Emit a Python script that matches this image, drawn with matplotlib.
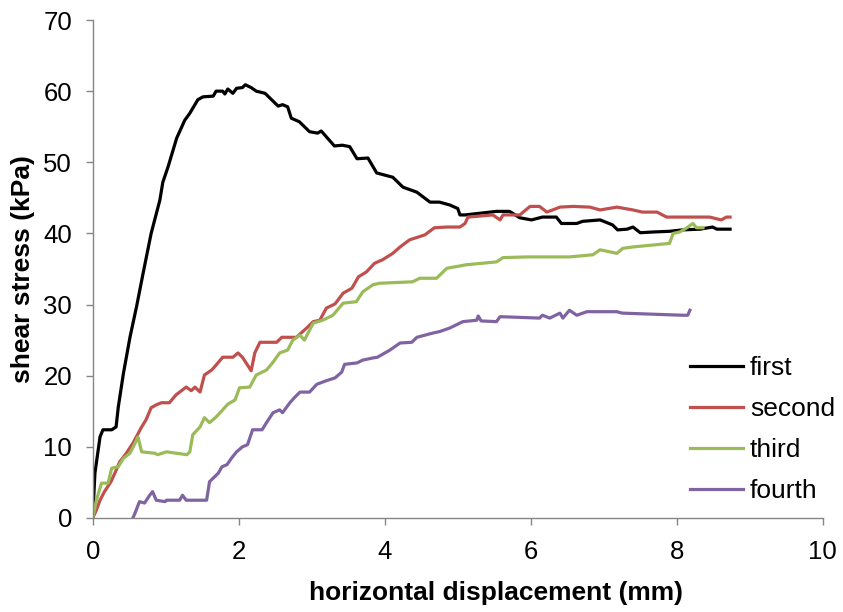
import matplotlib
matplotlib.use("Agg")
import matplotlib.pyplot as plt

plt.rcParams["font.family"] = ["Liberation Sans", "DejaVu Sans"]

# readings (mm, kPa)
first_x = [0, 0.03, 0.1, 0.14, 0.26, 0.32, 0.35, 0.42, 0.51, 0.6, 0.69, 0.8, 0.92,
           0.96, 1.03, 1.15, 1.26, 1.33, 1.44, 1.51, 1.65, 1.69, 1.78, 1.81, 1.85,
           1.92, 1.97, 2.05, 2.09, 2.17, 2.24, 2.36, 2.45, 2.54, 2.6, 2.67, 2.72,
           2.83, 2.97, 3.08, 3.13, 3.31, 3.42, 3.52, 3.62, 3.77, 3.89, 4.11, 4.25,
           4.44, 4.62, 4.75, 4.89, 5.0, 5.03, 5.1, 5.53, 5.71, 5.85, 6.01, 6.16,
           6.35, 6.42, 6.63, 6.71, 6.95, 7.12, 7.19, 7.32, 7.4, 7.5, 7.67, 7.9,
           8.08, 8.32, 8.49, 8.55, 8.73]
first_y = [0, 6.3, 11.4, 12.4, 12.4, 12.8, 15.6, 20.3, 25.4, 29.7, 34.4, 40.0, 44.7,
           47.2, 49.3, 53.4, 55.9, 56.9, 58.8, 59.2, 59.3, 60.0, 60.0, 59.6, 60.3,
           59.7, 60.4, 60.5, 60.9, 60.5, 60.0, 59.7, 58.8, 57.9, 58.1, 57.8, 56.2,
           55.7, 54.3, 54.1, 54.4, 52.3, 52.4, 52.2, 50.5, 50.6, 48.5, 47.9, 46.5,
           45.8, 44.4, 44.4, 44.0, 43.5, 42.6, 42.6, 43.1, 43.1, 42.2, 41.9, 42.3,
           42.3, 41.4, 41.4, 41.7, 41.9, 41.2, 40.5, 40.6, 40.9, 40.1, 40.2, 40.3,
           40.5, 40.6, 40.9, 40.6, 40.6]

second_x = [0, 0.05, 0.1, 0.16, 0.25, 0.32, 0.37, 0.46, 0.55, 0.67, 0.73, 0.8, 0.87,
            0.94, 1.05, 1.14, 1.28, 1.35, 1.4, 1.47, 1.53, 1.63, 1.69, 1.78, 1.92,
            1.99, 2.05, 2.12, 2.17, 2.22, 2.29, 2.52, 2.59, 2.79, 2.93, 3.02, 3.11,
            3.2, 3.32, 3.43, 3.55, 3.64, 3.75, 3.86, 3.97, 4.11, 4.21, 4.34, 4.55,
            4.68, 4.85, 5.03, 5.1, 5.14, 5.48, 5.58, 5.62, 5.85, 5.99, 6.12, 6.22,
            6.3, 6.4, 6.58, 6.81, 6.95, 7.18, 7.4, 7.53, 7.73, 7.86, 8.08, 8.32,
            8.45, 8.61, 8.68, 8.73]
second_y = [0, 1.1, 2.5, 3.7, 5.1, 6.7, 7.9, 9.1, 10.5, 12.8, 13.8, 15.5, 15.9,
            16.2, 16.2, 17.3, 18.4, 17.9, 18.4, 17.7, 20.1, 20.8, 21.5, 22.6, 22.6,
            23.2, 22.6, 21.5, 20.7, 23.2, 24.7, 24.7, 25.4, 25.4, 26.7, 27.6, 27.8,
            29.5, 30.1, 31.6, 32.3, 33.9, 34.6, 35.8, 36.3, 37.2, 38.1, 39.1, 39.8,
            40.8, 40.9, 40.9, 41.4, 42.3, 42.6, 41.9, 42.6, 42.6, 43.8, 43.8, 43.0,
            43.3, 43.7, 43.8, 43.7, 43.3, 43.7, 43.3, 43.0, 43.0, 42.3, 42.3, 42.3,
            42.3, 41.9, 42.3, 42.3]

third_x = [0, 0.05, 0.12, 0.21, 0.26, 0.35, 0.42, 0.51, 0.58, 0.62, 0.67, 0.85, 0.89,
           1.01, 1.15, 1.29, 1.33, 1.37, 1.47, 1.53, 1.6, 1.69, 1.78, 1.85, 1.95,
           2.01, 2.15, 2.24, 2.38, 2.47, 2.56, 2.67, 2.74, 2.84, 2.9, 3.02, 3.15,
           3.29, 3.43, 3.61, 3.7, 3.84, 3.93, 4.38, 4.48, 4.71, 4.85, 5.12, 5.53,
           5.62, 5.95, 6.26, 6.53, 6.85, 6.95, 7.18, 7.26, 7.4, 7.9, 7.95, 8.04,
           8.14, 8.22, 8.27, 8.36]
third_y = [0, 2.5, 4.9, 4.9, 7.0, 7.2, 8.4, 9.1, 10.5, 11.4, 9.3, 9.1, 8.9,
           9.3, 9.1, 8.9, 9.3, 11.7, 12.8, 14.1, 13.4, 14.2, 15.2, 16.0, 16.6,
           18.3, 18.4, 20.1, 20.8, 21.9, 23.2, 23.6, 25.0, 25.7, 25.0, 27.4, 27.8,
           28.5, 30.2, 30.4, 31.8, 32.8, 33.0, 33.2, 33.7, 33.7, 35.1, 35.6, 36.0,
           36.6, 36.7, 36.7, 36.7, 37.0, 37.7, 37.2, 37.9, 38.1, 38.6, 40.0, 40.2,
           40.8, 41.4, 40.8, 40.8]

fourth_x = [0.55, 0.58, 0.64, 0.71, 0.78, 0.82, 0.87, 0.99, 1.01, 1.19, 1.23, 1.28,
            1.56, 1.6, 1.65, 1.72, 1.77, 1.84, 1.9, 1.97, 2.05, 2.12, 2.19, 2.32,
            2.38, 2.47, 2.56, 2.6, 2.7, 2.77, 2.84, 2.97, 3.07, 3.2, 3.32, 3.41,
            3.45, 3.62, 3.7, 3.84, 3.9, 4.07, 4.21, 4.37, 4.44, 4.66, 4.75, 4.89,
            5.07, 5.26, 5.28, 5.32, 5.53, 5.58, 6.12, 6.16, 6.26, 6.4, 6.44, 6.53,
            6.63, 6.77, 7.18, 7.25, 8.08, 8.15, 8.18]
fourth_y = [0, 0.7, 2.3, 2.1, 3.2, 3.7, 2.5, 2.3, 2.5, 2.5, 3.2, 2.5,
            2.5, 5.1, 5.6, 6.3, 7.2, 7.5, 8.4, 9.3, 10.0, 10.3, 12.4, 12.4,
            13.4, 14.8, 15.2, 14.8, 16.2, 17.0, 17.7, 17.7, 18.8, 19.3, 19.7, 20.5,
            21.6, 21.8, 22.2, 22.5, 22.6, 23.6, 24.6, 24.7, 25.4, 26.0, 26.2, 26.7,
            27.6, 27.8, 28.4, 27.7, 27.6, 28.3, 28.1, 28.5, 28.1, 28.8, 28.1, 29.2,
            28.5, 29.0, 29.0, 28.8, 28.5, 28.5, 29.2]

series = [
    ("first", first_x, first_y, "#000000"),
    ("second", second_x, second_y, "#C0504D"),
    ("third", third_x, third_y, "#9BBB59"),
    ("fourth", fourth_x, fourth_y, "#8064A2"),
]

fig = plt.figure(figsize=(8.43, 6.12), dpi=100)
ax = fig.add_axes([0.110, 0.1536, 0.866, 0.8137])

for name, xs, ys, col in series:
    ax.plot(xs, ys, color=col, lw=2.3, label=name, solid_joinstyle="round")

ax.set_xlim(0, 10)
ax.set_ylim(0, 70)
ax.set_xticks(range(0, 11, 2))
ax.set_yticks(range(0, 71, 10))

for s in ["top", "right"]:
    ax.spines[s].set_visible(False)
for s in ["left", "bottom"]:
    ax.spines[s].set_color("#868686")
    ax.spines[s].set_linewidth(1.0)
ax.tick_params(direction="out", length=5, width=1.0, color="#868686",
               labelsize=18.5)
ax.tick_params(axis="x", pad=11)
ax.tick_params(axis="y", pad=10)

ax.set_xlabel("horizontal displacement (mm)", fontsize=19, fontweight="bold")
ax.xaxis.set_label_coords(0.553, -0.127)
ax.set_ylabel("shear stress (kPa)", fontsize=19, fontweight="bold", labelpad=6)

ax.legend(loc="lower left", bbox_to_anchor=(0.818, 0.03), frameon=False, fontsize=19,
          borderpad=0, borderaxespad=0, handlelength=2.0, handletextpad=0.27,
          labelspacing=0.64)

fig.savefig("out.png", dpi=100)
